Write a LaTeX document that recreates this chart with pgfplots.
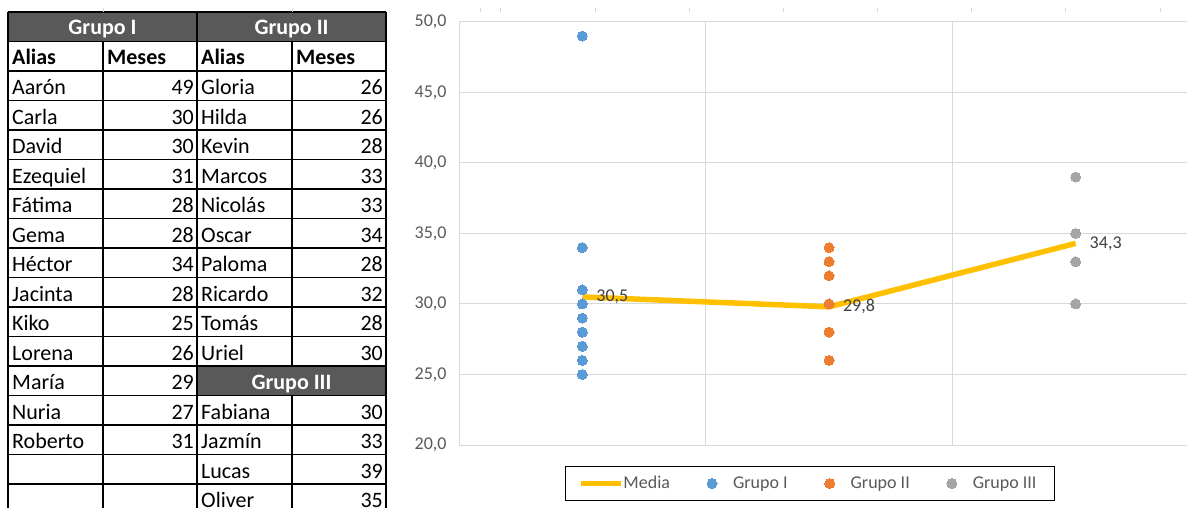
\documentclass[border=0pt]{standalone}
\usepackage{pgfplots}
\usepackage{pgfplotstable}
\pgfplotsset{compat=1.18}
\usepackage{fontspec}
\setmainfont{Carlito}

\definecolor{hdrgray}{HTML}{595959}
\definecolor{gridgray}{HTML}{D9D9D9}
\definecolor{ticktext}{HTML}{595959}
\definecolor{labeltext}{HTML}{404040}
\definecolor{media}{HTML}{FFC000}
\definecolor{g1}{HTML}{5B9BD5}
\definecolor{g2}{HTML}{ED7D31}
\definecolor{g3}{HTML}{A5A5A5}

% months per person, one table per group
\pgfplotstableread[col sep=comma]{
alias,meses
Aarón,49
Carla,30
David,30
Ezequiel,31
Fátima,28
Gema,28
Héctor,34
Jacinta,28
Kiko,25
Lorena,26
María,29
Nuria,27
Roberto,31
}\grupoI

\pgfplotstableread[col sep=comma]{
alias,meses
Gloria,26
Hilda,26
Kevin,28
Marcos,33
Nicolás,33
Oscar,34
Paloma,28
Ricardo,32
Tomás,28
Uriel,30
}\grupoII

\pgfplotstableread[col sep=comma]{
alias,meses
Fabiana,30
Jazmín,33
Lucas,39
Oliver,35
}\grupoIII

% group means
\pgfplotstableread{
x y lbl
1 30.5 30,5
2 29.8 29,8
3 34.3 34,3
}\medias

\begin{document}
\begin{tikzpicture}
\useasboundingbox (0,0) rectangle (1187bp,508bp);
\clip (0,0) rectangle (1187bp,508bp);

% ---------- spreadsheet table (y grows downward) ----------
\begin{scope}[x=1bp, y=-1bp, shift={(0bp,508bp)},
  tab/.style={font=\fontsize{22bp}{26bp}\selectfont, inner sep=0pt},
  tabb/.style={tab, font=\fontsize{22bp}{26bp}\selectfont\bfseries},
  hdr/.style={tabb, text=white}]
  % header fills
  \fill[hdrgray] (8,12) rectangle (386,41.5);
  \fill[hdrgray] (197,366) rectangle (386,395.5);
  % horizontal rules
  \foreach \k in {0,...,17}
    \draw[black, line width=1.2bp] (8,12+29.5*\k) -- (386,12+29.5*\k);
  % vertical rules
  \foreach \x in {8,197,386}
    \draw[black, line width=1.2bp] (\x,12) -- (\x,520);
  \draw[black, line width=1.2bp] (103,41.5) -- (103,520);
  \draw[black, line width=1.2bp] (292,41.5) -- (292,366);
  \draw[black, line width=1.2bp] (292,395.5) -- (292,520);
  % group headers
  \node[hdr, anchor=base] at (102.5,35) {Grupo I};
  \node[hdr, anchor=base] at (291.5,35) {Grupo II};
  \node[hdr, anchor=base] at (291.5,389.5) {Grupo III};
  % column headers
  \node[tabb, anchor=base west] at (12,65) {Alias};
  \node[tabb, anchor=base west] at (107,65) {Meses};
  \node[tabb, anchor=base west] at (201,65) {Alias};
  \node[tabb, anchor=base west] at (296,65) {Meses};
  % Grupo I rows
  \foreach \r in {0,...,12}{
    \pgfplotstablegetelem{\r}{alias}\of\grupoI \let\nm\pgfplotsretval
    \pgfplotstablegetelem{\r}{meses}\of\grupoI \let\vl\pgfplotsretval
    \pgfmathsetmacro\yb{12+29.5*(\r+2)+24}
    \node[tab, anchor=base west] at (12,\yb) {\nm};
    \node[tab, anchor=base east] at (194,\yb) {\vl};
  }
  % Grupo II rows
  \foreach \r in {0,...,9}{
    \pgfplotstablegetelem{\r}{alias}\of\grupoII \let\nm\pgfplotsretval
    \pgfplotstablegetelem{\r}{meses}\of\grupoII \let\vl\pgfplotsretval
    \pgfmathsetmacro\yb{12+29.5*(\r+2)+24}
    \node[tab, anchor=base west] at (201,\yb) {\nm};
    \node[tab, anchor=base east] at (383,\yb) {\vl};
  }
  % Grupo III rows
  \foreach \r in {0,...,3}{
    \pgfplotstablegetelem{\r}{alias}\of\grupoIII \let\nm\pgfplotsretval
    \pgfplotstablegetelem{\r}{meses}\of\grupoIII \let\vl\pgfplotsretval
    \pgfmathsetmacro\yb{12+29.5*(\r+13)+24}
    \node[tab, anchor=base west] at (201,\yb) {\nm};
    \node[tab, anchor=base east] at (383,\yb) {\vl};
  }
  % faint sheet gridline stubs along the top
  \foreach \x in {103,292,480,500,595,689,783,877,971,1065,1160}
    \draw[gridgray, line width=1bp] (\x,8) -- (\x,12);
\end{scope}

% ---------- chart ----------
\begin{axis}[
  at={(459bp,63bp)}, anchor=south west,
  scale only axis, width=740bp, height=423bp,
  xmin=0.5, xmax=3.5, ymin=20, ymax=50,
  axis lines*=left,
  axis line style={draw=gridgray, line width=1bp},
  xtick={1.5,2.5}, xticklabels={},
  ytick={20,25,30,35,40,45,50},
  major tick length=0pt,
  grid=major,
  grid style={draw=gridgray, line width=1bp},
  /pgf/number format/fixed,
  /pgf/number format/fixed zerofill,
  /pgf/number format/precision=1,
  /pgf/number format/use comma,
  /pgf/number format/assume math mode=true,
  yticklabel style={font=\fontsize{18bp}{21bp}\selectfont, text=ticktext, xshift=-9bp},
  legend style={at={(0.4743,-0.091)}, anchor=center,
    draw=black, line width=1bp,
    font=\fontsize{18bp}{21bp}\selectfont, text=ticktext,
    inner xsep=16bp, inner ysep=8.5bp,
    /tikz/every even column/.append style={column sep=30bp}},
  legend columns=4,
  legend cell align=left,
  clip=false,
  mark legend/.style={legend image code/.code={
    \path[draw=none, fill=none] (0bp,-5bp) rectangle (29bp,5bp);
    \draw[##1] plot coordinates {(10bp,0bp)};}},
]
\addplot[media, line width=5.5bp, line join=round, mark=none,
  nodes near coords, point meta=explicit symbolic,
  every node near coord/.append style={anchor=west, xshift=8bp,
    font=\fontsize{18bp}{21bp}\selectfont, text=labeltext},
  legend image code/.code={\path[draw=none, fill=none] (0bp,0bp) -- (40bp,0bp);
    \draw[media, line width=5.5bp, overlay] (0bp,0bp) -- (40bp,0bp);}]
  table[x=x, y=y, meta=lbl] {\medias};
\addlegendentry{Media}
\addplot[only marks, mark=*, mark size=5bp, mark legend,
  mark options={draw=g1, fill=g1, line width=0pt}]
  table[x expr=1, y=meses] {\grupoI};
\addlegendentry{Grupo I}
\addplot[only marks, mark=*, mark size=5bp, mark legend,
  mark options={draw=g2, fill=g2, line width=0pt}]
  table[x expr=2, y=meses] {\grupoII};
\addlegendentry{Grupo II}
\addplot[only marks, mark=*, mark size=5bp, mark legend,
  mark options={draw=g3, fill=g3, line width=0pt}]
  table[x expr=3, y=meses] {\grupoIII};
\addlegendentry{Grupo III}
\end{axis}
\end{tikzpicture}
\end{document}
